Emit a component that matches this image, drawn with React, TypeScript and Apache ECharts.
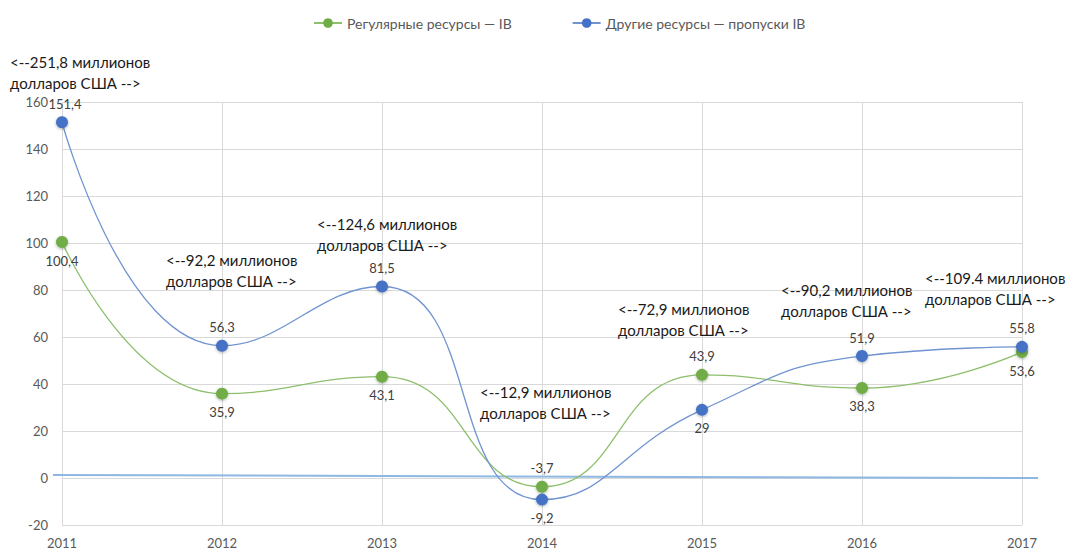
import React, { useEffect, useRef } from 'react';
import * as echarts from 'echarts';

const years = ['2011', '2012', '2013', '2014', '2015', '2016', '2017'];
const regular = [100.4, 35.9, 43.1, -3.7, 43.9, 38.3, 53.6];
const other = [151.4, 56.3, 81.5, -9.2, 29, 51.9, 55.8];
const regularLabelPos = ['bottom', 'bottom', 'bottom', 'top', 'top', 'bottom', 'bottom'];
const otherLabelPos = ['top', 'top', 'top', 'bottom', 'bottom', 'top', 'top'];
const yMin = -20;
const yMax = 160;
const yStep = 20;
const seriesNames = ['Регулярные ресурсы — IB', 'Другие ресурсы — пропуски IB'];
const notes = [
  '<--251,8 миллионов\nдолларов США -->',
  '<--92,2 миллионов\nдолларов США -->',
  '<--124,6 миллионов\nдолларов США -->',
  '<--12,9 миллионов\nдолларов США -->',
  '<--72,9 миллионов\nдолларов США -->',
  '<--90,2 миллионов\nдолларов США -->',
  '<--109.4 миллионов\nдолларов США -->',
];
const notePlaces = [
  [10, 51], [166, 249], [317, 213], [480, 381], [618, 298], [781, 279], [925, 267],
];

const GREEN = '#70AD47';
const BLUE = '#4472C4';
const FONT = 'Lato, "Liberation Sans", sans-serif';
const fmt = (v: number) => String(v).replace('.', ',');

export default function App() {
  const ref = useRef<HTMLDivElement>(null);
  useEffect(() => {
    if (!ref.current) return;
    const chart = echarts.init(ref.current, undefined, { renderer: 'svg' });
    const mkData = (vals: number[], pos: string[]) =>
      vals.map((v, i) => ({
        value: v,
        label: { position: pos[i], offset: i === 0 && pos[i] === 'top' ? [3, 0] : [0, 0] },
      }));
    chart.setOption({
      animation: false,
      backgroundColor: '#ffffff',
      textStyle: { fontFamily: FONT },
      legend: {
        top: 11,
        left: 308,
        itemGap: 60,
        itemWidth: 28,
        itemHeight: 12,
        textStyle: { color: '#595959', fontSize: 14, fontFamily: FONT },
        data: seriesNames,
      },
      grid: { left: 62, right: 48, top: 102, bottom: 25, containLabel: false },
      xAxis: {
        type: 'category',
        data: years,
        boundaryGap: false,
        axisTick: { show: false },
        axisLine: { show: true, lineStyle: { color: '#D9D9D9' } },
        splitLine: { show: true, lineStyle: { color: '#D9D9D9' } },
        axisLabel: { color: '#595959', fontSize: 13, margin: 11, fontFamily: FONT },
      },
      yAxis: {
        type: 'value',
        min: yMin,
        max: yMax,
        interval: yStep,
        axisLine: { show: false },
        axisTick: { show: false },
        splitLine: { lineStyle: { color: '#D9D9D9' } },
        axisLabel: { color: '#595959', fontSize: 13, margin: 14, fontFamily: FONT },
      },
      series: [
        {
          name: seriesNames[0],
          type: 'line',
          smooth: 0.5,
          data: mkData(regular, regularLabelPos),
          symbol: 'circle',
          symbolSize: 12,
          lineStyle: { color: '#8DBF6C', width: 1.3 },
          itemStyle: { color: GREEN, shadowBlur: 3, shadowColor: 'rgba(0,0,0,0.3)', shadowOffsetY: 1 },
          label: {
            show: true,
            distance: 6,
            color: '#404040',
            fontSize: 13,
            fontFamily: FONT,
            formatter: (p: any) => fmt(p.value),
          },
          z: 2,
        },
        {
          name: seriesNames[1],
          type: 'line',
          smooth: 0.5,
          data: mkData(other, otherLabelPos),
          symbol: 'circle',
          symbolSize: 12,
          lineStyle: { color: '#7094D1', width: 1.3 },
          itemStyle: { color: BLUE, shadowBlur: 3, shadowColor: 'rgba(0,0,0,0.3)', shadowOffsetY: 1 },
          label: {
            show: true,
            distance: 6,
            color: '#404040',
            fontSize: 13,
            fontFamily: FONT,
            formatter: (p: any) => fmt(p.value),
          },
          z: 3,
        },
      ],
      graphic: [
        {
          type: 'line',
          shape: { x1: 53, y1: 475, x2: 1038, y2: 478 },
          style: { stroke: '#8DB8E2', lineWidth: 2 },
          z: 1,
        },
        ...notes.map((t, i) => ({
          type: 'text',
          x: notePlaces[i][0],
          y: notePlaces[i][1],
          style: {
            text: t,
            fill: '#1a1a1a',
            fontSize: 15,
            fontFamily: FONT,
            lineHeight: 21,
          },
          z: 10,
        })),
      ],
    });
    return () => chart.dispose();
  }, []);
  return (
    <div
      ref={ref}
      style={{ position: 'fixed', left: 0, top: 0, width: 1070, height: 550 }}
    />
  );
}
